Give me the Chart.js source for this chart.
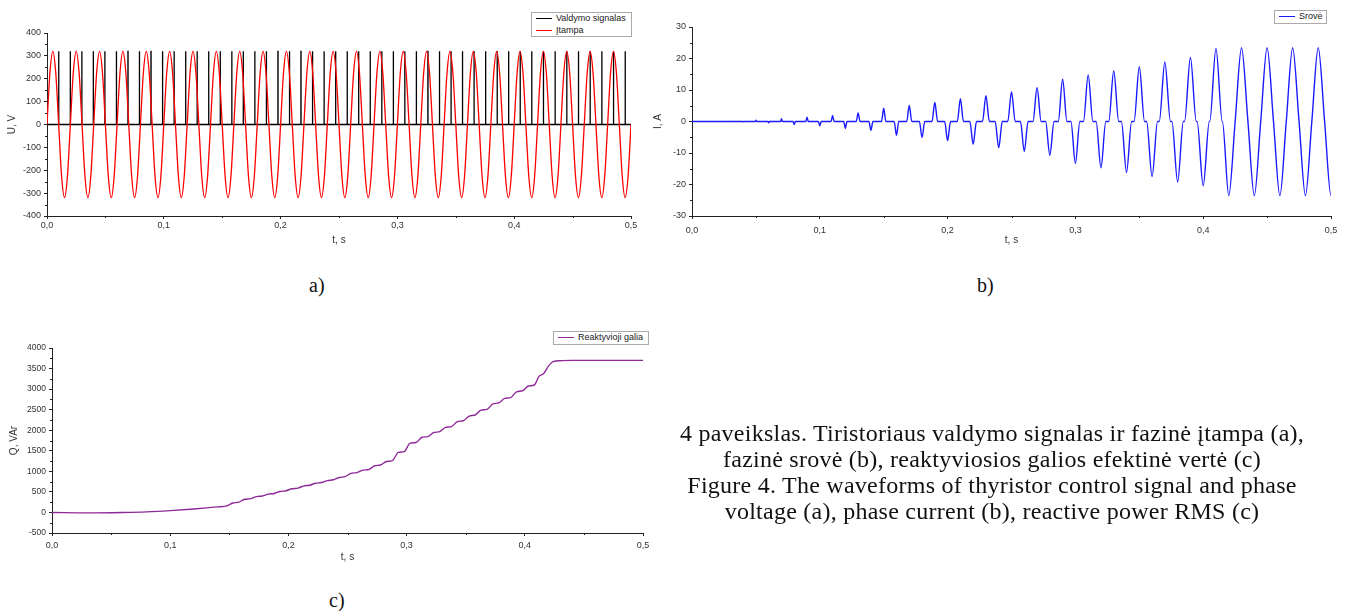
<!DOCTYPE html>
<html>
<head>
<meta charset="utf-8">
<script src="https://cdn.jsdelivr.net/npm/chart.js@4.4.1/dist/chart.umd.min.js"></script>
<style>
  body { margin: 0; background: #fff; width: 1352px; height: 611px; position: relative; overflow: hidden; font-family: 'Liberation Sans', Arial, sans-serif; }
  canvas { position: absolute; display: block; }
  .legend { position: absolute; box-sizing: border-box; border: 1px solid #aaa; background: #fff; font-size: 9px; color: #222; padding: 0 3px 0 4px; line-height: 11.5px; }
  .legend .row { display: flex; align-items: center; white-space: nowrap; }
  .legend .swatch { display: inline-block; width: 16px; height: 0; border-top: 1.4px solid; margin-right: 4px; }
  .sub { position: absolute; font-family: 'Liberation Serif', serif; font-size: 20px; color: #111; line-height: 20px; }
  .caption { position: absolute; left: 650px; width: 684px; top: 420px; text-align: center; font-family: 'Liberation Serif', serif; font-size: 24px; letter-spacing: 0.25px; line-height: 26px; color: #111; white-space: nowrap; }
</style>
</head>
<body>
<canvas id="chartA" width="650" height="250" style="left:0;top:0"></canvas>
<canvas id="chartB" width="702" height="250" style="left:650px;top:0"></canvas>
<canvas id="chartC" width="660" height="265" style="left:0;top:300px"></canvas>
<div class="legend" id="legendA" style="left:531px;top:12px;width:101px;height:25px"></div>
<div class="legend" id="legendB" style="left:1274px;top:10px;width:53px;height:14px"></div>
<div class="legend" id="legendC" style="left:553px;top:331px;width:96px;height:14px"></div>
<div class="sub" style="left:309px;top:275px">a)</div>
<div class="sub" style="left:977px;top:275px">b)</div>
<div class="sub" style="left:329px;top:590px">c)</div>
<div class="caption">4 paveikslas. Tiristoriaus valdymo signalas ir fazinė įtampa (a),<br>fazinė srovė (b), reaktyviosios galios efektinė vertė (c)<br>Figure 4. The waveforms of thyristor control signal and phase<br>voltage (a), phase current (b), reactive power RMS (c)</div>
<script>
// phase voltage, sampled every 1/8 period (0.0025 s)
const voltageStep = 0.0025
const voltageValues = [
  0, 226, 320, 226, 0, -226, -320, -226,
  0, 226, 320, 226, 0, -226, -320, -226,
  0, 226, 320, 226, 0, -226, -320, -226,
  0, 226, 320, 226, 0, -226, -320, -226,
  0, 226, 320, 226, 0, -226, -320, -226,
  0, 226, 320, 226, 0, -226, -320, -226,
  0, 226, 320, 226, 0, -226, -320, -226,
  0, 226, 320, 226, 0, -226, -320, -226,
  0, 226, 320, 226, 0, -226, -320, -226,
  0, 226, 320, 226, 0, -226, -320, -226,
  0, 226, 320, 226, 0, -226, -320, -226,
  0, 226, 320, 226, 0, -226, -320, -226,
  0, 226, 320, 226, 0, -226, -320, -226,
  0, 226, 320, 226, 0, -226, -320, -226,
  0, 226, 320, 226, 0, -226, -320, -226,
  0, 226, 320, 226, 0, -226, -320, -226,
  0, 226, 320, 226, 0, -226, -320, -226,
  0, 226, 320, 226, 0, -226, -320, -226,
  0, 226, 320, 226, 0, -226, -320, -226,
  0, 226, 320, 226, 0, -226, -320, -226,
  0, 226, 320, 226, 0, -226, -320, -226,
  0, 226, 320, 226, 0, -226, -320, -226,
  0, 226, 320, 226, 0, -226, -320, -226,
  0, 226, 320, 226, 0, -226, -320, -226,
  0, 226, 320, 226, 0, -226, -320, -226,
  0
]

// thyristor firing pulses (s)
const firingTimes = [
  0.0100, 0.0199, 0.0298, 0.0396, 0.0495, 0.0594, 0.0693, 0.0791, 0.0890, 0.0989,
  0.1088, 0.1187, 0.1285, 0.1384, 0.1483, 0.1582, 0.1680, 0.1779, 0.1878, 0.1977,
  0.2076, 0.2174, 0.2273, 0.2372, 0.2471, 0.2570, 0.2668, 0.2767, 0.2866, 0.2965,
  0.3063, 0.3162, 0.3261, 0.3360, 0.3459, 0.3557, 0.3656, 0.3755, 0.3854, 0.3952,
  0.4051, 0.4150, 0.4250, 0.4350, 0.4450, 0.4550, 0.4650, 0.4750, 0.4850, 0.4950
]
const pulseHeight = 320
const pulseWidth = 0.0001

// current peak of each half-cycle, at 0.01, 0.02 ... 0.50 s
const currentPeaks = [
  0, 0, 0.1, -0.1, 0.4, -0.4, 0.9, -1.0, 1.4, -1.4,
  1.9, -2.2, 2.7, -2.8, 4.2, -4.4, 5.1, -5.1, 6.1, -6.1,
  7.2, -7.2, 8.2, -8.3, 9.5, -9.5, 10.7, -10.7, 13.4, -13.3,
  14.8, -14.7, 16.1, -16.2, 17.4, -17.5, 18.9, -19.2, 20.3, -20.4,
  23.2, -23.5, 23.4, -23.5, 23.4, -23.5, 23.4, -23.5, 23.4, -23.5
]

// reactive power RMS
const qTimes = [
  0, 0.03, 0.06, 0.08, 0.10, 0.12, 0.14, 0.148, 0.153, 0.158,
  0.163, 0.168, 0.173, 0.178, 0.183, 0.188, 0.193, 0.198, 0.203, 0.208,
  0.213, 0.218, 0.223, 0.228, 0.233, 0.238, 0.243, 0.248, 0.253, 0.258,
  0.263, 0.268, 0.273, 0.278, 0.283, 0.288, 0.293, 0.298, 0.303, 0.308,
  0.313, 0.318, 0.323, 0.328, 0.333, 0.338, 0.343, 0.348, 0.353, 0.358,
  0.363, 0.368, 0.373, 0.378, 0.383, 0.388, 0.393, 0.398, 0.403, 0.408,
  0.412, 0.416, 0.420, 0.424, 0.430, 0.440, 0.500
]
const qValues = [
  0, -10, 0, 15, 45, 85, 135, 160, 230, 250,
  320, 335, 385, 400, 445, 462, 510, 528, 575, 592,
  645, 662, 710, 728, 775, 795, 850, 872, 950, 970,
  1030, 1045, 1135, 1155, 1240, 1262, 1460, 1480, 1685, 1700,
  1830, 1845, 1945, 1965, 2070, 2088, 2210, 2230, 2345, 2370,
  2490, 2508, 2640, 2665, 2775, 2792, 2935, 2960, 3075, 3100,
  3310, 3380, 3560, 3670, 3690, 3700, 3700
]

const tickFont = { family: "'Liberation Sans', Arial, sans-serif", size: 9 }
const titleFont = { family: "'Liberation Sans', Arial, sans-serif", size: 10 }
const textColor = '#333'
const axisColor = '#222'

// build chart data from the arrays above
const voltagePoints = voltageValues.map((v, i) => ({ x: i * voltageStep, y: v }))

const pulsePoints = [{ x: 0, y: 0 }]
firingTimes.forEach(t => {
  pulsePoints.push({ x: t, y: 0 }, { x: t, y: pulseHeight }, { x: t + pulseWidth, y: pulseHeight }, { x: t + pulseWidth, y: 0 })
})
pulsePoints.push({ x: 0.5, y: 0 })

const currentPoints = [{ x: 0, y: 0 }]
firingTimes.forEach((start, k) => {
  const center = (k + 1) / 100
  const end = 2 * center - start
  if (end - start < 1e-6) return
  const last = currentPoints[currentPoints.length - 1]
  if (start - last.x > 1e-6) currentPoints.push({ x: start, y: 0 })
  currentPoints.push({ x: center, y: currentPeaks[k] })
  currentPoints.push({ x: end, y: 0 })
})

const qPoints = qTimes.map((t, i) => ({ x: t, y: qValues[i] }))

// small ticks between the labelled ones
const minorTicks = {
  id: 'minorTicks',
  afterDraw(chart) {
    const { ctx, chartArea } = chart
    const { x, y } = chart.scales
    ctx.save()
    ctx.strokeStyle = axisColor
    ctx.lineWidth = 1
    ctx.beginPath()
    for (let i = 0; i < x.ticks.length - 1; i++) {
      const px = Math.round(x.getPixelForValue((x.ticks[i].value + x.ticks[i + 1].value) / 2)) + 0.5
      ctx.moveTo(px, chartArea.bottom)
      ctx.lineTo(px, chartArea.bottom + 2)
    }
    for (let i = 0; i < y.ticks.length - 1; i++) {
      const py = Math.round(y.getPixelForValue((y.ticks[i].value + y.ticks[i + 1].value) / 2)) + 0.5
      ctx.moveTo(chartArea.left, py)
      ctx.lineTo(chartArea.left - 2, py)
    }
    ctx.stroke()
    ctx.restore()
  }
}

function makeScales(cfg) {
  return {
    x: {
      type: 'linear',
      min: 0,
      max: 0.5,
      ticks: {
        stepSize: 0.1,
        autoSkip: false,
        maxRotation: 0,
        padding: cfg.xTickPad,
        font: tickFont,
        color: textColor,
        callback: v => v.toFixed(1).replace('.', ',')
      },
      grid: { drawOnChartArea: false, drawTicks: true, tickLength: 3, color: axisColor },
      border: { color: axisColor, width: 1 },
      title: { display: true, text: 't, s', font: titleFont, color: textColor, padding: { top: 0, bottom: cfg.xTitlePad } },
      afterFit: s => { s.height = cfg.xHeight }
    },
    y: {
      min: cfg.yMin,
      max: cfg.yMax,
      ticks: { stepSize: cfg.yStep, autoSkip: false, padding: 3, font: cfg.yFont || tickFont, color: textColor, callback: v => String(v) },
      grid: { drawOnChartArea: false, drawTicks: true, tickLength: 3, color: axisColor },
      border: { color: axisColor, width: 1 },
      title: { display: true, text: cfg.yTitle, font: titleFont, color: textColor, padding: { top: cfg.yTitlePad, bottom: 0 } },
      afterFit: s => { s.width = cfg.yWidth }
    }
  }
}

function baseOptions(padding, scales) {
  return {
    responsive: false,
    animation: false,
    devicePixelRatio: 1,
    layout: { padding },
    plugins: { legend: { display: false }, tooltip: { enabled: false } },
    elements: { point: { radius: 0 } },
    scales
  }
}

function fillLegend(id, datasets) {
  document.getElementById(id).innerHTML = datasets
    .map(d => `<div class="row"><span class="swatch" style="border-color:${d.borderColor}"></span>${d.label}</div>`)
    .join('')
}

// a) control signal and voltage
const dataA = [
  { label: 'Valdymo signalas', data: pulsePoints, borderColor: '#000000', borderWidth: 1.3, tension: 0, order: 1 },
  { label: 'Įtampa', data: voltagePoints, borderColor: '#ff0000', borderWidth: 1.3, cubicInterpolationMode: 'monotone', order: 0 }
]
new Chart(document.getElementById('chartA'), {
  type: 'line',
  data: { datasets: dataA },
  options: baseOptions({ top: 33, right: 19, left: 0, bottom: 0 },
    makeScales({ yMin: -400, yMax: 400, yStep: 100, yTitle: 'U, V', yWidth: 47, yTitlePad: 6, xHeight: 34, xTickPad: 1, xTitlePad: 4 })),
  plugins: [minorTicks]
})
fillLegend('legendA', dataA)

// b) phase current
const dataB = [
  { label: 'Srovė', data: currentPoints, borderColor: '#1a1aff', borderWidth: 1.4, cubicInterpolationMode: 'monotone' }
]
new Chart(document.getElementById('chartB'), {
  type: 'line',
  data: { datasets: dataB },
  options: baseOptions({ top: 27, right: 21, left: 0, bottom: 0 },
    makeScales({ yMin: -30, yMax: 30, yStep: 10, yTitle: 'I, A', yWidth: 42, yTitlePad: 2, xHeight: 34, xTickPad: 6, xTitlePad: 4 })),
  plugins: [minorTicks]
})
fillLegend('legendB', dataB)

// c) reactive power
const dataC = [
  { label: 'Reaktyvioji galia', data: qPoints, borderColor: '#8e2a98', borderWidth: 1.4, cubicInterpolationMode: 'monotone' }
]
new Chart(document.getElementById('chartC'), {
  type: 'line',
  data: { datasets: dataC },
  options: baseOptions({ top: 48, right: 17, left: 0, bottom: 0 },
    makeScales({ yMin: -500, yMax: 4000, yStep: 500, yTitle: 'Q, VAr', yWidth: 52, yTitlePad: 8, yFont: { family: tickFont.family, size: 8.5 }, xHeight: 32, xTickPad: 4, xTitlePad: 2 })),
  plugins: [minorTicks]
})
fillLegend('legendC', dataC)
</script>
</body>
</html>
